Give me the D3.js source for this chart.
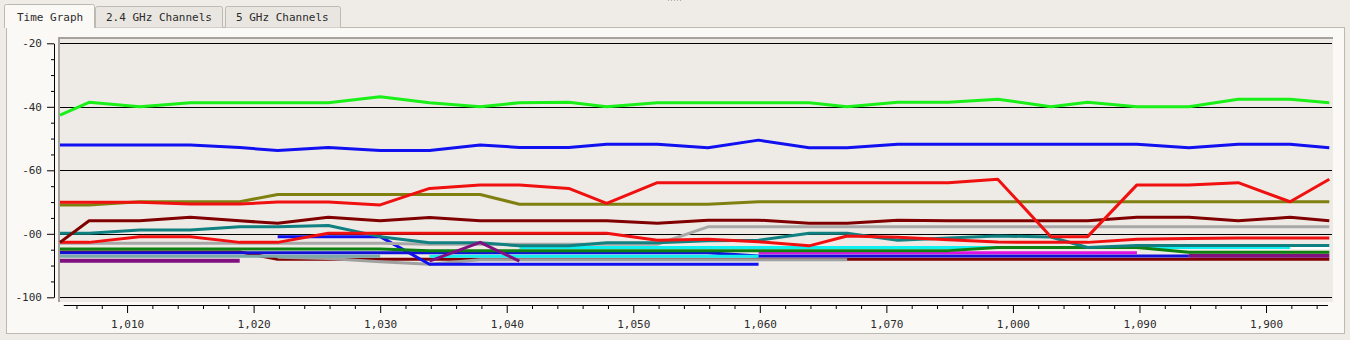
<!DOCTYPE html>
<html>
<head>
<meta charset="utf-8">
<script src="https://cdn.jsdelivr.net/npm/d3@7"></script>
<style>
  html, body { margin: 0; padding: 0; background: #efece8; }
  svg { display: block; }
  text { font-family: "DejaVu Sans Mono", monospace; font-size: 11px; fill: #2b2b2b; }
</style>
</head>
<body>
<svg id="chart" width="1350" height="340"></svg>
<script>
// ---- data ----
const tabs = ["Time Graph", "2.4 GHz Channels", "5 GHz Channels"];
const times = [1004.7, 1007.0, 1011.0, 1015.0, 1018.9, 1021.9, 1025.9, 1030.0, 1033.9, 1037.9,
               1041.0, 1044.9, 1047.9, 1051.9, 1055.9, 1059.9, 1063.9, 1066.9, 1070.9, 1074.9,
               1078.8, 1083.0, 1085.9, 1089.8, 1093.9, 1097.8, 1101.9, 1105.0];
const yTicks = [-20, -40, -60, -80, -100];
const yTickLabels = ["-20", "-40", "-60", "-00", "-100"];
const yMinorTicks = [-25, -30, -35, -45, -50, -55, -65, -70, -75, -85, -90, -95];
const xTicks = [1010, 1020, 1030, 1040, 1050, 1060, 1070, 1080, 1090, 1100];
const xTickLabels = ["1,010", "1,020", "1,030", "1,040", "1,050", "1,060", "1,070", "1,000", "1,090", "1,900"];
const xMinorTicks = [1006, 1008, 1012, 1014, 1016, 1018, 1022, 1024, 1026, 1028, 1032, 1034, 1036, 1038,
                     1042, 1044, 1046, 1048, 1052, 1054, 1056, 1058, 1062, 1064, 1066, 1068, 1072, 1074,
                     1076, 1078, 1082, 1084, 1086, 1088, 1092, 1094, 1096, 1098, 1102, 1104];

const N = null;
const green   = [-42.6,-38.6,-40.0,-38.7,-38.7,-38.7,-38.7,-36.8,-38.7,-40.0,-38.7,-38.6,-40.0,-38.7,-38.7,-38.7,-38.7,-40.0,-38.6,-38.6,-37.6,-40.0,-38.6,-40.0,-40.0,-37.6,-37.6,-38.7];
const blue    = [-52.0,-52.0,-52.0,-52.0,-52.8,-53.8,-52.8,-53.8,-53.8,-52.0,-52.8,-52.8,-51.8,-51.8,-52.9,-50.5,-52.9,-52.9,-51.8,-51.8,-51.8,-51.8,-51.8,-51.8,-52.9,-51.8,-51.8,-52.9];
const red     = [-70.1,-70.1,-70.1,-70.6,-70.6,-70.0,-70.0,-70.9,-65.7,-64.6,-64.6,-65.7,-70.4,-63.9,-63.9,-63.9,-63.9,-63.9,-63.9,-63.9,-62.8,-80.9,-80.9,-64.6,-64.6,-63.9,-69.9,-62.8];
const olive   = [-70.9,-70.9,-69.9,-69.9,-69.9,-67.6,-67.6,-67.6,-67.6,-67.6,-70.7,-70.7,-70.7,-70.7,-70.7,-69.9,-69.9,-69.9,-69.9,-69.9,-69.9,-69.9,-69.9,-69.9,-69.9,-69.9,-69.9,-69.9];
const maroon  = [-82.7,-75.9,-75.9,-74.8,-75.9,-76.7,-74.8,-75.9,-74.9,-75.9,-75.9,-75.9,-75.9,-76.7,-75.7,-75.7,-76.7,-76.7,-75.7,-75.9,-75.9,-75.9,-75.9,-74.8,-74.8,-75.9,-74.8,-75.9];
const teal    = [-79.8,-79.8,-78.8,-78.8,-77.8,-77.8,-77.4,-80.9,-82.8,-82.8,-83.8,-83.8,-82.8,-82.8,-82.2,-82.0,-79.8,-79.8,-82.0,-81.3,-80.7,-81.0,-84.3,-83.7,-83.7,-83.7,-83.7,-83.7];
const red2    = [-82.7,-82.7,-80.9,-80.9,-82.7,-82.7,-79.8,-79.8,-79.8,-79.8,-79.8,-79.8,-79.8,-82.0,-81.7,-82.5,-83.8,-80.7,-81.1,-81.9,-82.6,-82.7,-82.7,-81.7,-81.5,-81.3,-81.3,-81.3];
const gray    = [-83.0,-83.0,-83.0,-83.0,-83.0,-83.0,-83.0,-83.0,-83.3,-83.3,-83.3,-83.3,-83.3,-83.3,-77.8,-77.8,-77.8,-77.8,-77.8,-77.8,-77.8,-77.8,-77.8,-77.8,-77.8,-77.8,-77.8,-77.8];
const white   = [N,N,N,N,N,N,N,N,N,N,N,N,N,N,N,N,N,N,N,N,N,N,N,N,N,-84.4,-84.4,-84.4];
const cyan    = [N,N,N,N,N,N,N,N,N,N,-84.3,-84.3,-84.3,-84.3,-84.3,-84.3,-84.3,-84.3,-84.3,-84.3,-84.3,-84.3,-84.3,-84.3,-84.3,-84.3,-84.3,N];
const cyan2   = [N,N,N,N,N,N,N,N,-87.1,-87.1,-87.1,-87.1,-87.1,-87.1,-87.1,-87.1,N,N,N,N,N,N,N,N,N,N,N,N];
const green2  = [-84.8,-84.8,-84.8,-84.8,-84.8,-84.8,-84.8,-84.8,-85.3,-85.3,-85.3,-85.3,-85.3,-85.3,-85.3,-85.3,-85.3,-85.3,-85.3,-85.3,-84.3,-84.3,-84.3,-84.3,-85.8,-85.8,-85.8,-85.8];
const magenta = [N,N,N,N,N,N,N,N,N,N,N,N,N,N,N,-86.0,-86.0,-86.0,-86.0,-86.0,-86.0,-86.0,-86.0,-86.0,N,N,N,N];
const blue4   = [-86.0,-86.0,-86.0,-86.0,-86.0,-86.0,-86.0,-86.0,-86.0,-86.0,-86.0,-86.0,-86.0,-86.0,-86.0,-87.0,-87.0,-87.0,-87.0,-87.0,-87.0,-87.0,-87.0,-87.0,-87.0,N,N,N];
const purple  = [-88.5,-88.5,-88.5,-88.5,-88.5,N,N,N,N,N,N,N,N,N,N,N,N,N,N,N,N,N,N,N,-86.9,-86.9,-86.9,-86.9];
const purple2 = [N,N,N,N,N,N,N,N,-88.6,-82.7,-88.6,N,N,N,N,N,N,N,N,N,N,N,N,N,N,N,N,N];
const maroon2 = [-85.7,-85.7,-85.7,-85.7,-85.7,-88.0,-88.0,-88.0,-88.0,-88.0,-88.0,-88.0,-88.0,-88.0,-88.0,-88.0,-88.0,-88.0,-88.0,-88.0,-88.0,-88.0,-88.0,-88.0,-88.0,-88.0,-88.0,-88.0];
const blue2   = [N,N,N,N,N,-80.9,-80.9,-80.9,-89.6,-89.6,-89.6,-89.6,-89.6,-89.6,-89.6,-89.6,N,N,N,N,N,N,N,N,N,N,N,N];
const gray2   = [N,N,N,N,N,-87.4,-87.8,-88.8,-89.6,-88.2,-88.2,-88.2,-88.2,-88.2,-88.2,-88.2,-88.2,-88.2,N,N,N,N,N,N,N,N,N,N];
const lightTeal = [-87.1,-87.1,-87.1,-87.1,-87.1,-87.1,-87.1,-87.1,N,N,N,N,N,N,N,N,N,N,N,N,N,N,N,N,N,N,N,N];

// drawing order: bottom to top
const seriesList = [
  { values: maroon2,   color: "#800000" },
  { values: gray2,     color: "#a0a0a0" },
  { values: blue2,     color: "#1010f0" },
  { values: purple,    color: "#801080", width: 4 },
  { values: lightTeal, color: "#78a8a8" },
  { values: blue4,     color: "#1010d8" },
  { values: cyan2,     color: "#10f0f0" },
  { values: magenta,   color: "#e010e0" },
  { values: white,     color: "#ffffff" },
  { values: cyan,      color: "#10f0f0" },
  { values: green2,    color: "#108010" },
  { values: gray,      color: "#a8a8a8" },
  { values: teal,      color: "#108080" },
  { values: purple2,   color: "#801080" },
  { values: red2,      color: "#f01010" },
  { values: maroon,    color: "#800000" },
  { values: olive,     color: "#808010" },
  { values: red,       color: "#f01010" },
  { values: blue,      color: "#1010f0" },
  { values: green,     color: "#18f018" }
];

// ---- layout ----
const svg = d3.select("#chart");
const plot = { x0: 58, y0: 37, x1: 1333, y1: 302 };

// top grip
svg.append("g").selectAll("rect").data(d3.range(5)).join("rect")
  .attr("x", (d, i) => 668 + i * 3).attr("y", 0).attr("width", 1).attr("height", 1)
  .attr("fill", "#b0aca6");

// panel
svg.append("rect").attr("x", 6.5).attr("y", 27.5).attr("width", 1338).attr("height", 306)
  .attr("fill", "#fbf9f6").attr("stroke", "#bcb8b2");

// tabs
const tabBoxes = [[95, 223], [225, 341]];
tabBoxes.forEach((b, i) => {
  svg.append("path")
    .attr("d", `M${b[0]+0.5},27.5 V8.5 Q${b[0]+0.5},6.5 ${b[0]+2.5},6.5 H${b[1]-2.5} Q${b[1]-0.5},6.5 ${b[1]-0.5},8.5 V27.5`)
    .attr("fill", "#e9e6e1").attr("stroke", "#bdb9b3");
});
svg.append("path")
  .attr("d", "M4.5,28 V6.5 Q4.5,4.5 6.5,4.5 H92.5 Q94.5,4.5 94.5,6.5 V28")
  .attr("fill", "#fbf9f6").attr("stroke", "#bcb8b2");
const tabX = [17, 106, 236];
svg.selectAll("text.tab").data(tabs).join("text").attr("class", "tab")
  .attr("x", (d, i) => tabX[i]).attr("y", 21).text(d => d);

// plot background
svg.append("rect").attr("x", plot.x0).attr("y", plot.y0)
  .attr("width", plot.x1 - plot.x0).attr("height", plot.y1 - plot.y0).attr("fill", "#eeebe6");
svg.append("rect").attr("x", plot.x0).attr("y", plot.y0).attr("width", plot.x1 - plot.x0).attr("height", 2).attr("fill", "#a6a29d");
svg.append("rect").attr("x", plot.x0).attr("y", plot.y0).attr("width", 2).attr("height", plot.y1 - plot.y0).attr("fill", "#a6a29d");

// scales
const x = d3.scaleLinear().domain([1004.7, 1105]).range([60, 1329.3]);
const y = d3.scaleLinear().domain([-20, -100]).range([43.3, 297.3]);

// grid lines
svg.append("g").selectAll("line").data(yTicks).join("line")
  .attr("x1", 60).attr("x2", 1332)
  .attr("y1", d => Math.round(y(d)) + 0.5).attr("y2", d => Math.round(y(d)) + 0.5)
  .attr("stroke", "#000").attr("stroke-width", 1);

// y axis
const yAxisG = svg.append("g").attr("transform", "translate(54,0)");
yAxisG.call(d3.axisLeft(y).tickValues(yTicks).tickSize(7).tickSizeOuter(0).tickPadding(5)
  .tickFormat((d, i) => yTickLabels[i]));
svg.append("g").attr("transform", "translate(54,0)")
  .call(d3.axisLeft(y).tickValues(yMinorTicks).tickSize(3).tickFormat(""))
  .select(".domain").remove();

// x axis
const xAxisG = svg.append("g").attr("transform", "translate(0,305)");
xAxisG.call(d3.axisBottom(x).tickValues(xTicks).tickSize(8).tickSizeOuter(0).tickPadding(7)
  .tickFormat((d, i) => xTickLabels[i]));
xAxisG.select(".domain").attr("d", `M${x(1005)},0.5H${x(1104.9)}`);
svg.append("g").attr("transform", "translate(0,305)")
  .call(d3.axisBottom(x).tickValues(xMinorTicks).tickSize(4).tickFormat(""))
  .select(".domain").remove();

svg.selectAll(".tick text").attr("font-family", "DejaVu Sans Mono, monospace").attr("font-size", 11).attr("fill", "#2b2b2b");
svg.selectAll(".domain, .tick line").attr("stroke", "#000");

// lines
const line = d3.line()
  .defined(d => d.v !== null)
  .x(d => x(d.t))
  .y(d => y(d.v));

svg.append("g").selectAll("path").data(seriesList).join("path")
  .attr("d", s => line(s.values.map((v, i) => ({ t: times[i], v }))))
  .attr("fill", "none")
  .attr("stroke", s => s.color)
  .attr("stroke-width", s => s.width || 3)
  .attr("stroke-linejoin", "round");
</script>
</body>
</html>
